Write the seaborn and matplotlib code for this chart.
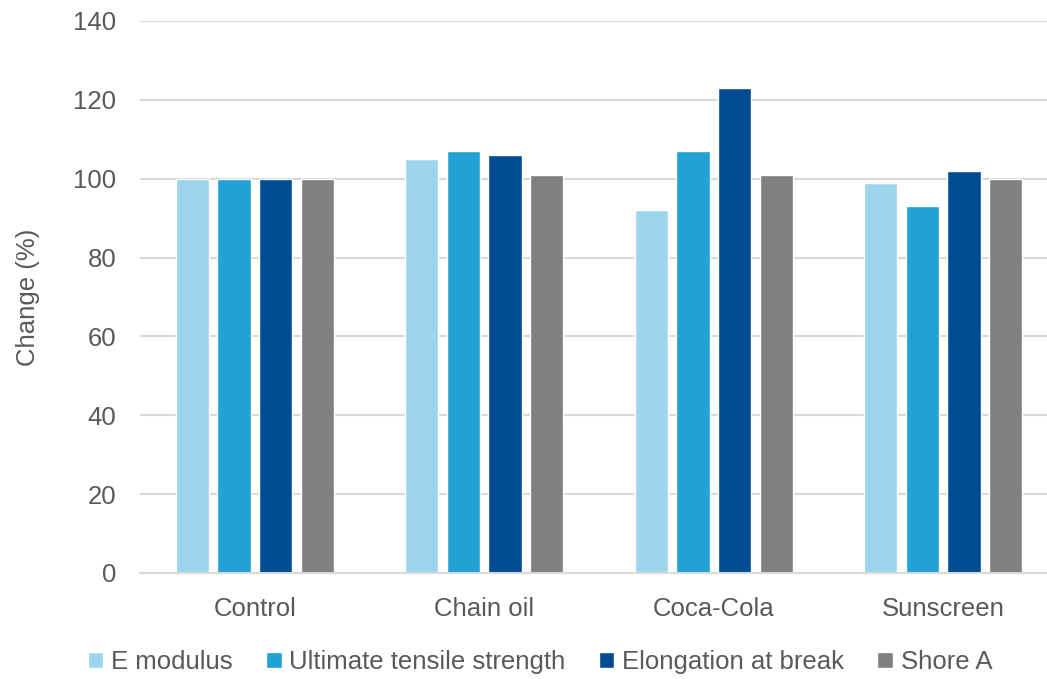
import pandas as pd
import numpy as np
import seaborn as sns
import matplotlib.pyplot as plt

# values (change in %)
treatments = ["Control", "Chain oil", "Coca-Cola", "Sunscreen"]
properties = ["E modulus", "Ultimate tensile strength", "Elongation at break", "Shore A"]
e_modulus = [100, 105, 92, 99]
tensile_strength = [100, 107, 107, 93]
elongation = [100, 106, 123, 102]
shore_a = [100, 101, 101, 100]

colours = ["#9dd5ec", "#22a1d4", "#004c93", "#808080"]

rows = []
for prop, vals in zip(properties, [e_modulus, tensile_strength, elongation, shore_a]):
    for t, v in zip(treatments, vals):
        rows.append({"Treatment": t, "Property": prop, "Change": v})
df = pd.DataFrame(rows)

sns.set_style("white")
plt.rcParams['font.family'] = ['Liberation Sans', 'DejaVu Sans']
text_col = "#595959"
fs = 18.5

fig = plt.figure(figsize=(10.47, 6.79), dpi=100)
ax = fig.add_axes([140 / 1047, 106 / 679, 918 / 1047, 552 / 679])

sns.barplot(data=df, x="Treatment", y="Change", hue="Property", order=treatments,
            hue_order=properties, palette=colours, width=0.725, gap=0.2,
            saturation=1, ax=ax)

ax.set_ylim(0, 140)
ax.set_xlim(-0.5, 3.5)
ax.set_yticks(np.arange(0, 141, 20))
ax.yaxis.grid(True, color="#d9d9d9", linewidth=1.5)
ax.set_axisbelow(True)
for side in ["top", "right", "left"]:
    ax.spines[side].set_visible(False)
ax.spines["bottom"].set_color("#d9d9d9")
ax.spines["bottom"].set_linewidth(1.5)
ax.tick_params(axis="both", length=0, labelsize=fs, colors=text_col)
ax.tick_params(axis="x", pad=17)
ax.tick_params(axis="y", pad=17)
ax.set_xlabel("")
ax.set_ylabel("Change (%)", fontsize=fs, color=text_col, labelpad=24)

handles, labels = ax.get_legend_handles_labels()
ax.get_legend().remove()
fig.legend(handles, labels, loc="center", bbox_to_anchor=(540 / 1047, 1 - 662 / 679),
           ncol=4, frameon=False, fontsize=fs, labelcolor=text_col,
           handlelength=0.6, handleheight=0.6, handletextpad=0.3, columnspacing=1.3)

fig.savefig("out.png", dpi=100)
